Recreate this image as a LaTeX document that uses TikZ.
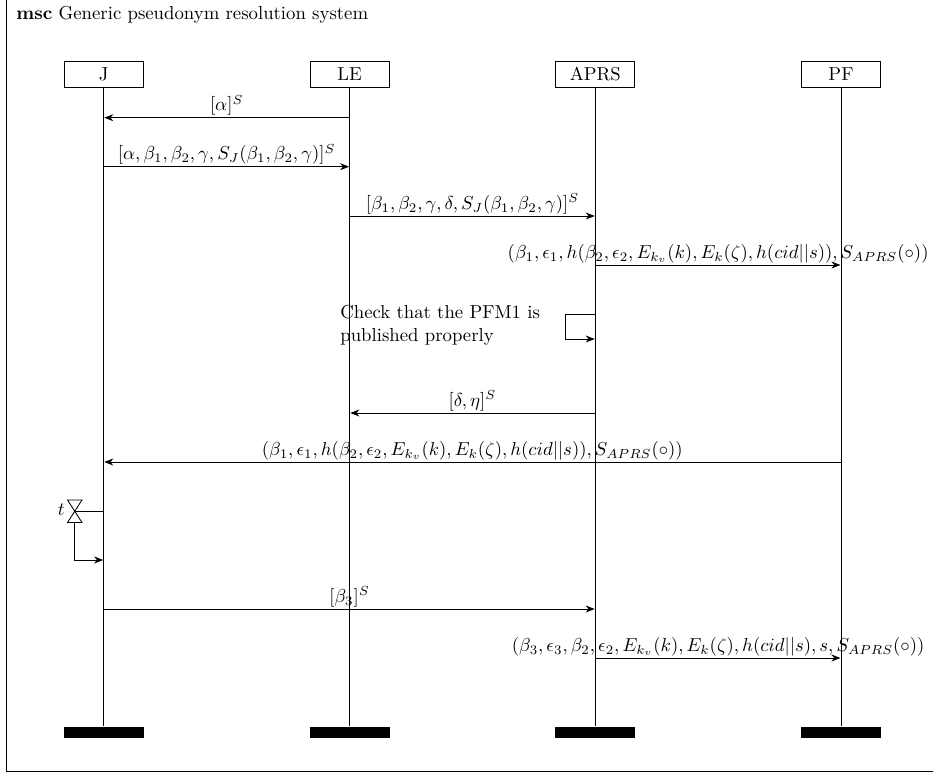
\documentclass[tikz,border=0pt]{standalone}
\usetikzlibrary{arrows.meta}
\tikzset{
  px/.style={x=0.5333pt,y=-0.5333pt},
  head/.style={draw,line width=0.45pt,minimum width=42.2pt,minimum height=14pt,inner sep=0pt,anchor=center,text height=6.8pt,text depth=0pt},
  foot/.style={fill=black,draw=none,minimum width=42.7pt,minimum height=5.87pt,inner sep=0pt,anchor=center},
  life/.style={line width=0.45pt},
  msg/.style={line width=0.45pt,-{Stealth[length=4.8pt,width=3.7pt,inset=1.5pt]},shorten >=0.3pt},
  mlab/.style={inner sep=0pt,above=0.9pt},
  frameline/.style={line width=0.45pt},
}
\begin{document}
\begin{tikzpicture}[px]
\useasboundingbox (0,0) rectangle (933,773);
\draw[frameline] (6,-5) -- (6,771.5) -- (940,771.5);
\node[anchor=base west,inner sep=0pt] (title) at (16,19) {\textbf{msc} Generic pseudonym resolution system};
% heads
\node[head] (J) at (103.7,74.5) {J};
\node[head] (LE) at (349.7,74.5) {LE};
\node[head] (APRS) at (595.3,74.5) {APRS};
\node[head] (PF) at (841,74.5) {PF};
% feet
\node[foot] (Je) at (103.7,732.2) {};
\node[foot] (LEe) at (349.7,732.2) {};
\node[foot] (APRSe) at (595.3,732.2) {};
\node[foot] (PFe) at (841,732.2) {};
\draw[life] (J) -- (Je);
\draw[life] (LE) -- (LEe);
\draw[life] (APRS) -- (APRSe);
\draw[life] (PF) -- (PFe);
% message anchor coordinates
\foreach \n/\y in {a/117.7,b/166.7,c/216,d/265,e/314,f/339,g/413,h/462,i/511,k/560,l/609,m/658}{
  \coordinate (J\n) at (103.7,\y);
  \coordinate (L\n) at (349.7,\y);
  \coordinate (A\n) at (595.3,\y);
  \coordinate (P\n) at (841,\y);
}
\draw[msg] (La) -- node[mlab] (m1) {$[\alpha]^S$} (Ja);
\draw[msg] (Jb) -- node[mlab] (m2) {$[\alpha,\beta_1,\beta_2,\gamma,S_J(\beta_1,\beta_2,\gamma)]^S$} (Lb);
\draw[msg] (Lc) -- node[mlab] (m3) {$[\beta_1,\beta_2,\gamma,\delta,S_J(\beta_1,\beta_2,\gamma)]^S$} (Ac);
\draw[msg] (Ad) -- node[mlab] (m4) {$(\beta_1,\epsilon_1,h(\beta_2,\epsilon_2,E_{k_v}(k),E_k(\zeta),h(cid||s)),S_{APRS}(\circ))$} (Pd);
% self message
\coordinate (sa) at (565.5,314);
\coordinate (sb) at (565.5,339);
\draw[msg] (Ae) -- (sa) -- (sb) -- (Af);
\node[anchor=north west,inner sep=0pt,align=left,text width=130pt] (note) at (340,305) {\baselineskip=13pt Check that the PFM1 is\\published properly};
\draw[msg] (Ag) -- node[mlab] (m5) {$[\delta,\eta]^S$} (Lg);
\draw[msg] (Ph) -- node[mlab] (m6) {$(\beta_1,\epsilon_1,h(\beta_2,\epsilon_2,E_{k_v}(k),E_k(\zeta),h(cid||s)),S_{APRS}(\circ))$} (Jh);
% timer
\coordinate (t1) at (67.5,500);
\coordinate (t2) at (82,500);
\coordinate (t3) at (67.5,522.5);
\coordinate (t4) at (82,522.5);
\coordinate (tc) at (74.5,511);
\coordinate (tb) at (74.5,522.5);
\coordinate (tk) at (74.5,560);
\draw[line width=0.45pt,line join=miter] (t1) -- (t2) -- (t3) -- (t4) -- cycle;
\draw[life] (Ji) -- (tc);
\draw[msg] (tb) -- (tk) -- (Jk);
\node[anchor=east,inner sep=0pt] (tlab) at (65,510) {$t$};
\draw[msg] (Jl) -- node[mlab] (m7) {$[\beta_3]^S$} (Al);
\draw[msg] (Am) -- node[mlab] (m8) {$(\beta_3,\epsilon_3,\beta_2,\epsilon_2,E_{k_v}(k),E_k(\zeta),h(cid||s),s,S_{APRS}(\circ))$} (Pm);
\end{tikzpicture}
\end{document}
